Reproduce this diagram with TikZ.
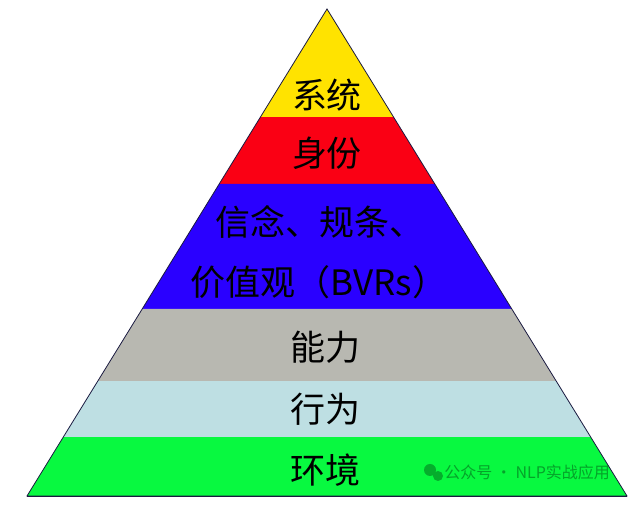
\documentclass[tikz,border=0pt]{standalone}
\usepackage{fontspec}
\newfontfamily\cjk{Noto Sans CJK SC}
\usetikzlibrary{calc}
\definecolor{lyellow}{HTML}{FFE300}
\definecolor{lred}{HTML}{FA0014}
\definecolor{lblue}{HTML}{2A00FF}
\definecolor{lgrey}{HTML}{B8B8B1}
\definecolor{lcyan}{HTML}{BEDFE3}
\definecolor{lgreen}{HTML}{08F940}
\definecolor{ledge}{HTML}{1A1A40}
\tikzset{
  every picture/.style={line width=0.4pt},
  level/.style={font=\cjk\fontsize{17.5}{20}\selectfont, text=black, inner sep=0pt},
  mark text/.style={font=\cjk\fontsize{8}{10}\selectfont, text=black, opacity=0.35, inner sep=0pt},
}
\begin{document}
\begin{tikzpicture}[x=0.5pt, y=-0.5pt]
  \useasboundingbox (0,0) rectangle (628,506);
  \coordinate (apex) at (327,9);
  \coordinate (bl) at (27,496);
  \coordinate (br) at (627,496);
  % bands from top to bottom
  \foreach \ta/\tb/\col in {0/0.2218/lyellow, 0.2218/0.3593/lred, 0.3593/0.616/lblue,
      0.616/0.7639/lgrey, 0.7639/0.8789/lcyan, 0.8789/1/lgreen} {
    \fill[\col] ($(apex)!\ta!(bl)$) -- ($(apex)!\tb!(bl)$) -- ($(apex)!\tb!(br)$) -- ($(apex)!\ta!(br)$) -- cycle;
    \draw[ledge] ($(apex)!\tb!(bl)$) -- ($(apex)!\tb!(br)$);
  }
  \draw[ledge] (apex) -- (bl) -- (br) -- cycle;
  % labels
  \node[level] (sys) at (327,95) {系统};
  \node[level] (iden) at (327,153) {身份};
  \node[level] (bel) at (320,222) {信念、规条、};
  \node[level] (val) at (319,282) {价值观（BVRs）};
  \node[level] (cap) at (325,347) {能力};
  \node[level] (beh) at (325,409) {行为};
  \node[level] (env) at (325,470) {环境};
  \node[mark text, anchor=west] (wm) at (444,472) {公众号 · NLP实战应用};
  \fill[black, opacity=0.3] (430,470) circle (6) (438,476) circle (5);
\end{tikzpicture}
\end{document}
